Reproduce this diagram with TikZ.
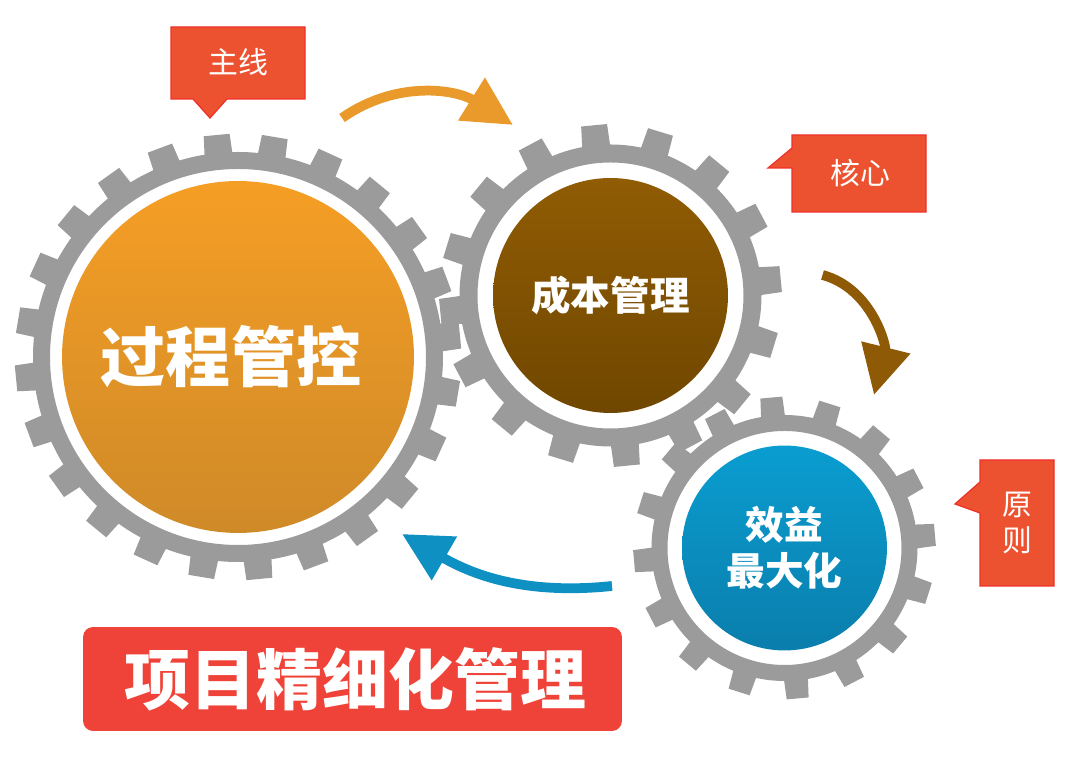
\documentclass[tikz,border=0pt]{standalone}
\usepackage{fontspec}
\usetikzlibrary{arrows.meta}
\newfontfamily\cjk{Noto Sans CJK SC}
\definecolor{geargray}{HTML}{9B9B9B}
\definecolor{tagred}{HTML}{EC5230}
\definecolor{tagline}{HTML}{F0302A}
\definecolor{bannerred}{HTML}{EF4238}
\definecolor{orangearrow}{HTML}{E99A2B}
\definecolor{brownarrow}{HTML}{8E5A05}
\definecolor{bluearrow}{HTML}{0E90C2}
\definecolor{orangetop}{HTML}{F59E25}
\definecolor{orangelow}{HTML}{CF8A28}
\definecolor{browntop}{HTML}{905C04}
\definecolor{brownlow}{HTML}{704700}
\definecolor{bluetop}{HTML}{0A9DD0}
\definecolor{bluelow}{HTML}{0A7EAC}
% center, ring inner, ring outer, tip radius, teeth, first angle, half tooth
\newcommand{\gearwheel}[7]{
\begin{scope}[shift={#1}]
    \fill[geargray, even odd rule] (0,0) circle (#2) (0,0) circle (#3);
    \foreach \t in {1,...,#5} {
        \fill[geargray, rotate=#6+\t*360/#5] (#3-2,-#7-1) -- (#4,-#7) -- (#4,#7) -- (#3-2,#7+1) -- cycle;
    }
\end{scope}
}

\begin{document}
\begin{tikzpicture}[x=0.02cm, y=0.02cm]
\tikzset{disc/.style={circle, inner sep=0pt, align=center, text=white}}
\tikzset{tag/.style={fill=tagred, draw=tagline, line width=0.025cm, line join=miter}}
\tikzset{tagtext/.style={text=white, align=center, inner sep=0pt, font=\cjk\fontsize{17}{20}\selectfont}}
\tikzset{flow/.style={line width=0.195cm, -{Triangle[length=0.98cm, width=0.96cm]}}}

\useasboundingbox (0,0) rectangle (1080,760);

%% Gears
\gearwheel{(238,403)}{188}{205}{223}{24}{5.5}{13}
\gearwheel{(610.5,464.5)}{133}{151}{171}{16}{5.5}{13}
\gearwheel{(784.5,212)}{117}{133}{151}{16}{5}{11}

\node[disc, minimum size=7.04cm, top color=orangetop, bottom color=orangelow,
    font=\cjk\bfseries\fontsize{37}{44}\selectfont]
    at (238,403) (process) {过程管控\hspace*{0.28cm}};
\node[disc, minimum size=4.7cm, top color=browntop, bottom color=brownlow,
    font=\cjk\bfseries\fontsize{22.5}{27}\selectfont]
    at (610.5,464.5) (cost) {成本管理};
\node[disc, minimum size=4.1cm, top color=bluetop, bottom color=bluelow,
    font=\cjk\bfseries\fontsize{22}{26}\selectfont]
    at (784.5,212) (benefit) {效益\\最大化};

%% Arrows
\coordinate (orangetail) at (342,642);
\coordinate (orangetip) at (513,635);
\coordinate (browntail) at (822.5,485);
\coordinate (browntip) at (874,365);
\coordinate (bluetail) at (612,174);
\coordinate (bluetip) at (402,226);

\draw[flow, orangearrow] (orangetail) to[out=35, in=148] (orangetip);
\draw[flow, brownarrow] (browntail) to[out=-15, in=76] (browntip);
\draw[flow, bluearrow] (bluetail) to[out=186, in=-30] (bluetip);

%% Tags
\filldraw[tag] (171,733) -- (305,733) -- (305,661) -- (227,661) -- (210,642) -- (193,661) -- (171,661) -- cycle;
\node[tagtext] at (238,698) (mainline) {主线};

\filldraw[tag] (792,625) -- (926,625) -- (926,548) -- (792,548) -- (792,592) -- (768,592) -- (792,612) -- cycle;
\node[tagtext] at (860,587) (core) {核心};

\filldraw[tag] (980,300) -- (1054,300) -- (1054,174) -- (980,174) -- (980,247) -- (955,256) -- (980,278) -- cycle;
\node[tagtext] at (1017,237) (rule) {原\\则};

%% Banner
\node[fill=bannerred, rounded corners=0.2cm, minimum width=10.78cm, minimum height=2.08cm,
    inner sep=0pt, text=white, font=\cjk\bfseries\fontsize{37.5}{44}\selectfont]
    at (352.5,81) (banner) {\hspace*{0.12cm}项目精细化管理};

\end{tikzpicture}
\end{document}
